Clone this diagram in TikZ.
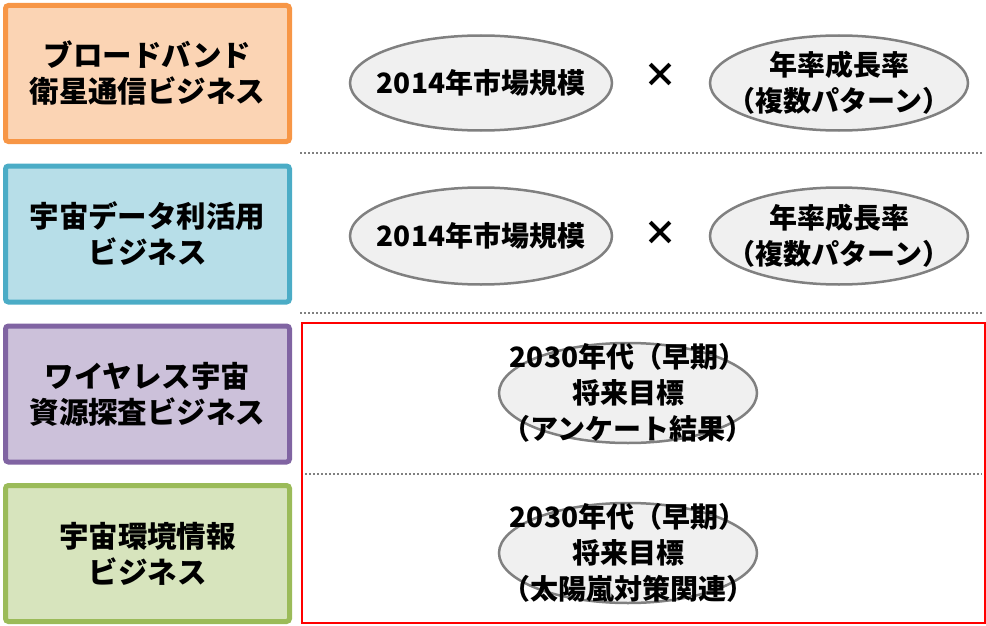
\documentclass[tikz,border=0pt]{standalone}
\usepackage{fontspec}
\setmainfont{Noto Sans CJK JP}
\usetikzlibrary{shapes.geometric}
\definecolor{orB}{HTML}{F79646}\definecolor{orF}{HTML}{FBD4B4}
\definecolor{blB}{HTML}{4BACC6}\definecolor{blF}{HTML}{B7DEE8}
\definecolor{puB}{HTML}{8064A2}\definecolor{puF}{HTML}{CCC1DA}
\definecolor{grB}{HTML}{9BBB59}\definecolor{grF}{HTML}{D7E4BD}
\definecolor{ovB}{HTML}{808080}\definecolor{ovF}{HTML}{F0F0F0}
\begin{document}
\begin{tikzpicture}[x=1pt,y=-1pt,
  bizbox/.style={draw, line width=5pt, rounded corners=3pt, minimum width=284pt,
    minimum height=136pt, align=center, inner sep=0pt,
    font=\fontsize{29.5}{36}\selectfont\bfseries},
  oval/.style={ellipse, draw=ovB, fill=ovF, line width=2.5pt, inner sep=0pt},
  ovaltext/.style={align=center, inner sep=0pt, font=\fontsize{28}{36}\selectfont\bfseries},
  times/.style={inner sep=0pt, font=\fontsize{34}{34}\selectfont\bfseries},
  sepline/.style={draw=ovB, line width=2pt, dash pattern=on 2pt off 2pt}]
\useasboundingbox (0,0) rectangle (986,626);
% category boxes
\node[bizbox, draw=orB, fill=orF] (b1) at (147.5,73.5) {ブロードバンド\\衛星通信ビジネス};
\node[bizbox, draw=blB, fill=blF] (b2) at (147.5,234) {宇宙データ利活用\\ビジネス};
\node[bizbox, draw=puB, fill=puF] (b3) at (147.5,394) {ワイヤレス宇宙\\資源探査ビジネス};
\node[bizbox, draw=grB, fill=grF] (b4) at (147.5,553.5) {宇宙環境情報\\ビジネス};
% separators
\coordinate (s1a) at (300,153); \coordinate (s1b) at (982,153);
\coordinate (s2a) at (300,313); \coordinate (s2b) at (982,313);
\coordinate (s3a) at (305,474); \coordinate (s3b) at (982,474);
\draw[sepline] (s1a) -- (s1b);
\draw[sepline] (s2a) -- (s2b);
\draw[sepline] (s3a) -- (s3b);
% red frame
\coordinate (r1) at (302,323); \coordinate (r2) at (985,623);
\draw[red, line width=2pt] (r1) rectangle (r2);
% row 1
\node[oval, minimum width=262pt, minimum height=95pt] (e1a) at (481,83) {};
\node[ovaltext] (t1a) at (e1a.center) {2014年市場規模};
\node[times] (x1) at (660,75) {×};
\node[oval, minimum width=258pt, minimum height=95pt] (e1b) at (839,83) {};
\node[ovaltext] (t1b) at (e1b.center) {年率成長率\\（複数パターン）};
% row 2
\node[oval, minimum width=262pt, minimum height=97pt] (e2a) at (481,236) {};
\node[ovaltext] (t2a) at (e2a.center) {2014年市場規模};
\node[times] (x2) at (660,233) {×};
\node[oval, minimum width=258pt, minimum height=97pt] (e2b) at (839,236) {};
\node[ovaltext] (t2b) at (e2b.center) {年率成長率\\（複数パターン）};
% row 3
\node[oval, minimum width=258pt, minimum height=100pt] (e3) at (628,393) {};
\node[ovaltext] (t3) at (e3.center) {2030年代（早期）\\将来目標\\（アンケート結果）};
% row 4
\node[oval, minimum width=258pt, minimum height=100pt] (e4) at (628,553) {};
\node[ovaltext] (t4) at (e4.center) {2030年代（早期）\\将来目標\\（太陽嵐対策関連）};
\end{tikzpicture}
\end{document}
